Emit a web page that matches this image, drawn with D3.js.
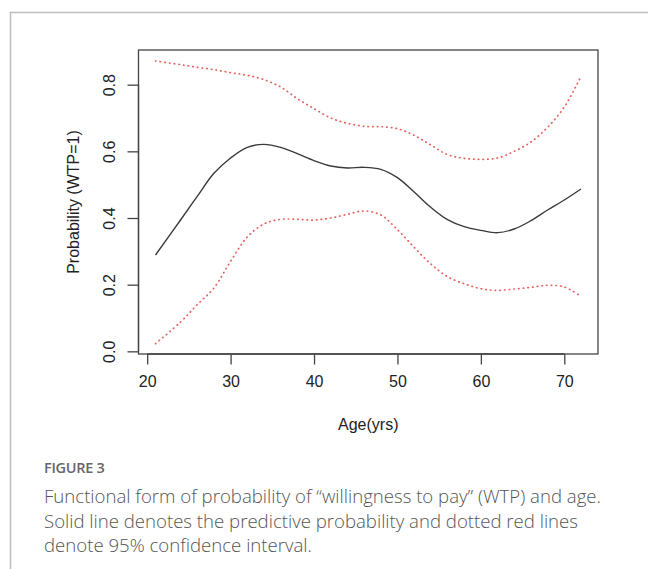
<!DOCTYPE html>
<html>
<head>
<meta charset="utf-8">
<script src="https://cdn.jsdelivr.net/npm/d3@7"></script>
<style>
  body { margin: 0; background: #fff; }
  svg { display: block; }
</style>
</head>
<body>
<svg id="chart" width="648" height="569"></svg>
<script>
// data
const ages = [21, 24, 26, 28, 30, 32, 34, 36, 38, 40, 42, 44, 46, 48, 50, 52, 54, 56, 58, 60, 62, 64, 66, 68, 70, 72];
const fit = [0.289, 0.394, 0.465, 0.534, 0.580, 0.612, 0.621, 0.612, 0.593, 0.572, 0.556, 0.550, 0.552, 0.546, 0.521, 0.478,
             0.432, 0.395, 0.374, 0.363, 0.356, 0.367, 0.392, 0.424, 0.454, 0.487];
const upper = [0.871, 0.860, 0.852, 0.845, 0.836, 0.828, 0.815, 0.793, 0.758, 0.728, 0.700, 0.684, 0.675, 0.674, 0.668, 0.648,
               0.619, 0.590, 0.579, 0.576, 0.580, 0.600, 0.628, 0.672, 0.733, 0.825];
const lower = [0.023, 0.088, 0.140, 0.190, 0.270, 0.343, 0.382, 0.396, 0.396, 0.394, 0.400, 0.411, 0.421, 0.409, 0.365, 0.312,
               0.262, 0.224, 0.203, 0.188, 0.183, 0.187, 0.192, 0.198, 0.193, 0.165];
const xTicks = [20, 30, 40, 50, 60, 70];
const yTicks = [0, 0.2, 0.4, 0.6, 0.8];
const xLabel = 'Age(yrs)';
const yLabel = 'Probability (WTP=1)';
const figLabel = 'FIGURE 3';
const caption = [
  'Functional form of probability of \u201cwillingness to pay\u201d (WTP) and age.',
  'Solid line denotes the predictive probability and dotted red lines',
  'denote 95% confidence interval.'
];

const box = { left: 138.5, top: 50, right: 598, bottom: 354 };
const svg = d3.select('#chart');

// page frame
svg.append('path')
  .attr('d', 'M10.5,569 L10.5,12.5 L648,12.5')
  .attr('fill', 'none')
  .attr('stroke', '#bdbdbd')
  .attr('stroke-width', 1.5);

const x = d3.scaleLinear().domain([18.96, 74.04]).range([box.left, box.right]);
const y = d3.scaleLinear().domain([-0.008, 0.904]).range([box.bottom, box.top]);

const axisFont = '"Liberation Sans", Arial, Helvetica, sans-serif';
const ink = '#444';

// x axis
const xAxis = svg.append('g')
  .attr('transform', `translate(0,${box.bottom})`)
  .call(d3.axisBottom(x).tickValues(xTicks).tickSize(10.5).tickPadding(11).tickFormat(d3.format('d')));
xAxis.select('.domain').attr('d', `M${x(20)},0H${x(70)}`);
xAxis.selectAll('line, .domain').attr('stroke', ink).attr('stroke-width', 1.3);
xAxis.selectAll('text').attr('fill', '#222').style('font-family', axisFont).style('font-size', '16px');

// y axis, labels rotated as in R
const yAxis = svg.append('g')
  .attr('transform', `translate(${box.left},0)`)
  .call(d3.axisLeft(y).tickValues(yTicks).tickSize(11).tickFormat(d3.format('.1f')));
yAxis.select('.domain').attr('d', `M0,${y(0)}V${y(0.8)}`);
yAxis.selectAll('line, .domain').attr('stroke', ink).attr('stroke-width', 1.3);
yAxis.selectAll('text')
  .attr('x', null).attr('dy', null)
  .attr('transform', 'translate(-29,0) rotate(-90)')
  .attr('text-anchor', 'middle')
  .attr('dominant-baseline', 'central')
  .attr('fill', '#222')
  .style('font-family', axisFont).style('font-size', '16px');

// box
svg.append('rect')
  .attr('x', box.left).attr('y', box.top)
  .attr('width', box.right - box.left).attr('height', box.bottom - box.top)
  .attr('fill', 'none').attr('stroke', ink).attr('stroke-width', 1.3);

// lines
const line = vals => d3.line()
  .x((d, i) => x(ages[i]))
  .y(d => y(d))
  .curve(d3.curveCatmullRom.alpha(0.5))(vals);

[upper, lower].forEach(vals => {
  svg.append('path')
    .attr('d', line(vals))
    .attr('fill', 'none')
    .attr('stroke', '#e8605c')
    .attr('stroke-width', 1.7)
    .attr('stroke-linecap', 'round')
    .attr('stroke-dasharray', '0.5,4.2');
});

svg.append('path')
  .attr('d', line(fit))
  .attr('fill', 'none')
  .attr('stroke', '#3a3a3a')
  .attr('stroke-width', 1.4);

// axis titles
svg.append('text')
  .attr('x', (box.left + box.right) / 2).attr('y', 430)
  .attr('text-anchor', 'middle')
  .attr('fill', '#222')
  .style('font-family', axisFont).style('font-size', '16px')
  .text(xLabel);

svg.append('text')
  .attr('transform', `translate(73,${(box.top + box.bottom) / 2}) rotate(-90)`)
  .attr('text-anchor', 'middle')
  .attr('dominant-baseline', 'central')
  .attr('fill', '#222')
  .style('font-family', axisFont).style('font-size', '16px')
  .text(yLabel);

// figure caption
svg.append('text')
  .attr('x', 44).attr('y', 473)
  .attr('fill', '#666')
  .style('font-family', '"Open Sans", "Noto Sans", sans-serif')
  .style('font-size', '14.5px')
  .style('font-weight', 600)
  .style('letter-spacing', '-0.3px')
  .text(figLabel);

svg.append('g').selectAll('text')
  .data(caption)
  .join('text')
  .attr('x', 44)
  .attr('y', (d, i) => 503 + i * 24.5)
  .attr('fill', '#555')
  .style('font-family', '"Open Sans", "Noto Sans", sans-serif')
  .style('font-size', '18.6px')
  .style('font-weight', 300)
  .text(d => d);
</script>
</body>
</html>
